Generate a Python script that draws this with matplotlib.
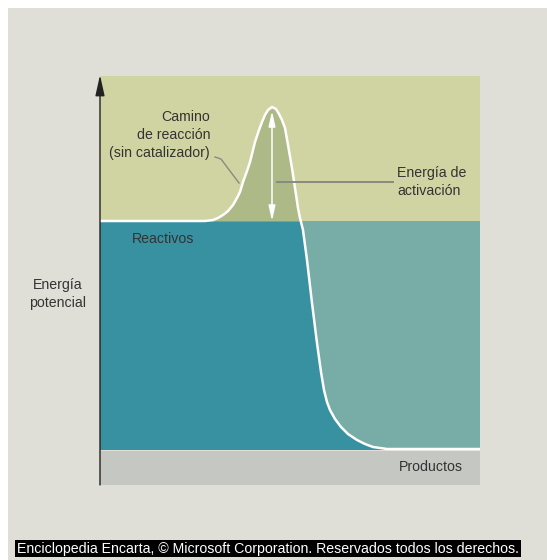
import matplotlib
matplotlib.use("Agg")
import matplotlib.pyplot as plt
from matplotlib.patches import Rectangle

# Diagrama de energía potencial (Encarta) -------------------------------
# coordenada de reacción (0..380) y energía (0..409), unidades arbitrarias
xi = [0, 105, 113, 118, 123, 128, 133, 137, 140, 143, 147, 150, 155, 159,
      162, 165, 168, 172, 176, 179, 182, 185, 188, 192, 195, 198, 200, 203,
      207, 212, 217, 221, 224, 227, 230, 235, 241, 248, 257, 265, 273, 280,
      287, 380]
energia = [264, 264, 265, 267, 270, 274, 280, 287, 293, 303, 314, 323, 343,
           355, 363, 370, 375, 378, 376, 371, 365, 357, 340, 317, 297, 277,
           267, 255, 225, 182, 142, 113, 95, 83, 75, 66, 58, 51, 45, 41, 38,
           37, 36, 36]

E_reactivos = 264
E_productos = 35
E_max = 409
xi_pico = 172
E_pico = 374

textos = {
    "camino": "Camino\nde reacción\n(sin catalizador)",
    "activacion": "Energía de\nactivación",
    "reactivos": "Reactivos",
    "productos": "Productos",
    "eje": "Energía\npotencial",
    "pie": "Enciclopedia Encarta, © Microsoft Corporation. Reservados todos los derechos.",
}

plt.rcParams["font.family"] = ["Liberation Sans", "DejaVu Sans"]
fs = 10.2

W, H = 547, 560
fig = plt.figure(figsize=(W / 100, H / 100), dpi=100)
fig.patch.set_facecolor("white")
fig.patches.append(Rectangle((8 / W, 0), 1, (H - 8) / H, transform=fig.transFigure,
                             facecolor="#dfdfd7", edgecolor="none", zorder=-10))

ax = fig.add_axes([100 / W, (H - 485) / H, 380 / W, 409 / H])
ax.set_xlim(0, 380)
ax.set_ylim(0, E_max)
ax.axis("off")

# fondos
ax.axhspan(E_reactivos, E_max, color="#d0d4a2", lw=0)
ax.axhspan(E_productos, E_reactivos, color="#3791a1", lw=0)
ax.axhspan(0, E_productos - 1, color="#c4c7c2", lw=0)
ax.fill_between(xi, energia, E_reactivos, where=[e >= E_reactivos for e in energia],
                interpolate=True, color="#adba88", lw=0)
ax.fill_between(xi, energia, E_reactivos, where=[e <= E_reactivos for e in energia],
                interpolate=True, color="#77aca7", lw=0)

# curva
ax.plot(xi, energia, color="white", lw=1.8, solid_joinstyle="round")

# energía de activación
ax.annotate("", xy=(xi_pico, E_reactivos), xytext=(xi_pico, E_pico),
            arrowprops=dict(arrowstyle="<|-|>,head_length=0.45,head_width=0.1",
                            color="white", lw=1.1, mutation_scale=20,
                            shrinkA=0, shrinkB=0))
ax.plot([xi_pico + 5, 293], [303, 303], color="#8a8a80", lw=1.4)
ax.text(297, 303, textos["activacion"], ha="left", va="center", fontsize=fs,
        color="#333333", linespacing=1.4)

# camino de reacción
ax.plot([115, 121, 139], [328, 326, 302], color="#8a8a80", lw=1.0)
ax.text(110, 350, textos["camino"], ha="right", va="center", fontsize=fs,
        color="#333333", linespacing=1.4)

ax.text(32, 246, textos["reactivos"], ha="left", va="center", fontsize=fs,
        color="#333333")
ax.text(363, 18, textos["productos"], ha="right", va="center", fontsize=fs,
        color="#333333")

# eje vertical con flecha
ax.annotate("", xy=(0, 410), xytext=(0, 0), annotation_clip=False,
            arrowprops=dict(arrowstyle="-|>,head_length=0.9,head_width=0.2",
                            color="#222222", lw=1.0, mutation_scale=14,
                            shrinkA=0, shrinkB=0))

fig.text(58 / W, 1 - 294 / H, textos["eje"], ha="center", va="center",
         fontsize=fs, color="#333333", linespacing=1.4)

fig.text(17 / W, 1 - 548.5 / H, textos["pie"], ha="left", va="center",
         fontsize=fs, color="white",
         bbox=dict(boxstyle="square,pad=0.12", facecolor="black", edgecolor="none"))

fig.savefig("out.png", dpi=100)
